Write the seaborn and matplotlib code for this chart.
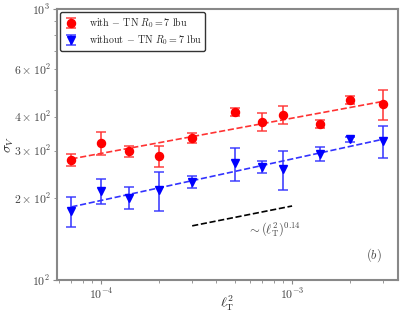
import numpy as np
import matplotlib
matplotlib.use("Agg")
import matplotlib.pyplot as plt
import seaborn as sns

# data
ell2 = [7e-5, 1e-4, 1.4e-4, 2e-4, 3e-4, 5e-4, 7e-4, 9e-4, 1.4e-3, 2e-3, 3e-3]

sigma_with = [277, 320, 299, 287, 334, 417, 383, 406, 376, 462, 446]
err_with = [14, 30, 14, 26, 15, 14, 29, 31, 14, 16, 56]

sigma_without = [180, 213, 201, 215, 230, 270, 261, 257, 292, 331, 326]
err_without = [23, 22, 19, 36, 12, 38, 13, 43, 18, 7, 45]

# power law fits: (prefactor, exponent)
fit_with = (970, 0.130)
fit_without = (804, 0.153)
guide = (493, 0.14)
guide_x = [3e-4, 1e-3]

sns.set_style("ticks")
plt.rcParams["font.family"] = ["cmr10", "DejaVu Serif"]
plt.rcParams["mathtext.fontset"] = "cm"
plt.rcParams["axes.unicode_minus"] = False
plt.rcParams["axes.formatter.use_mathtext"] = True

fig = plt.figure(figsize=(4.05, 3.16), dpi=100)
ax = fig.add_axes([0.141, 0.114, 0.842, 0.858])

ax.errorbar(ell2, sigma_with, yerr=err_with, fmt="o", color="red", ms=5.8,
            ecolor=(1, 0.2, 0.2, 0.85), elinewidth=1.3, capsize=3.5, capthick=1.2,
            label=r"with $-$ TN $R_0=7$ lbu", zorder=3)
ax.errorbar(ell2, sigma_without, yerr=err_without, fmt="v", color="blue", ms=6,
            ecolor=(0.2, 0.2, 1, 0.85), elinewidth=1.3, capsize=3.5, capthick=1.2,
            label=r"without $-$ TN $R_0=7$ lbu", zorder=3)

xf = np.logspace(np.log10(ell2[0]), np.log10(ell2[-1]), 50)
sns.lineplot(x=xf, y=fit_with[0] * xf ** fit_with[1], ax=ax, color="red",
             alpha=0.8, lw=1.2, linestyle="--", zorder=2)
sns.lineplot(x=xf, y=fit_without[0] * xf ** fit_without[1], ax=ax, color="blue",
             alpha=0.8, lw=1.2, linestyle="--", zorder=2)
gx = np.array(guide_x)
sns.lineplot(x=gx, y=guide[0] * gx ** guide[1], ax=ax, color="black",
             lw=1.2, linestyle="--")

ax.text(8.05e-4, 154, r"$\sim(\ell^2_{\rm T})^{0.14}$", ha="center", va="center",
        fontsize=9, color="#444444")
ax.text(0.93, 0.092, r"$(b)$", transform=ax.transAxes, ha="center", va="center",
        fontsize=9, color="#444444")

ax.set_xscale("log")
ax.set_yscale("log")
ax.set_xlim(5.89e-5, 3.59e-3)
ax.set_ylim(100, 1000)
ax.set_xlabel(r"$\ell^2_{\rm T}$", fontsize=10, va="center")
ax.set_ylabel(r"$\sigma_V$", fontsize=10, va="center")
ax.xaxis.set_label_coords(0.5, -0.085)
ax.yaxis.set_label_coords(-0.138, 0.5)

for s in ax.spines.values():
    s.set_color("#888888")
    s.set_linewidth(1.5)
ax.tick_params(which="both", colors="#888888", labelcolor="#444444", labelsize=8.5, pad=2)
ax.tick_params(which="major", length=3)
ax.tick_params(which="minor", length=2)

leg = ax.legend(loc="upper left", fontsize=7.2, frameon=True, fancybox=True,
                edgecolor="#333333", framealpha=1, borderaxespad=0.3,
                borderpad=0.35, handlelength=1.5, handletextpad=1.0, labelspacing=0.25)
leg.get_frame().set_linewidth(1.0)

fig.savefig("out.png", dpi=100)
